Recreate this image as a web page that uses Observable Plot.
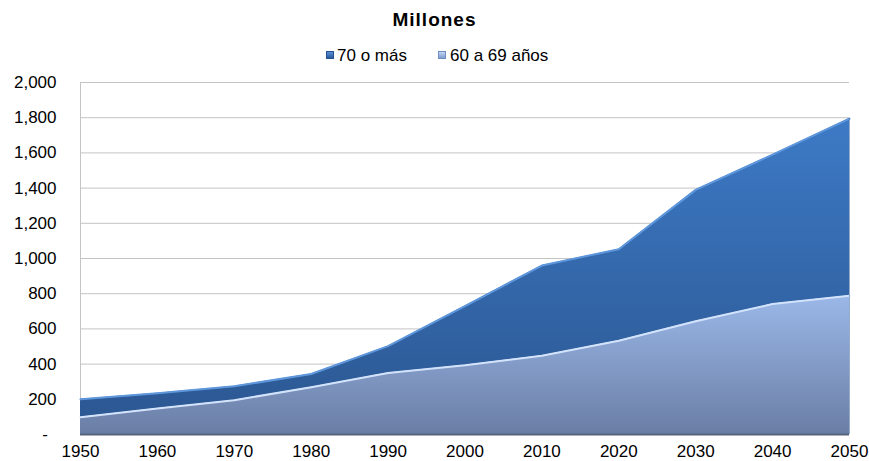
<!DOCTYPE html>
<html>
<head>
<meta charset="utf-8">
<script src="https://cdn.jsdelivr.net/npm/d3@7"></script>
<script src="https://cdn.jsdelivr.net/npm/@observablehq/plot@0.6"></script>
<style>
  body { margin: 0; background: #fff; font-family: "Liberation Sans", Arial, sans-serif; color: #000; }
  #wrap { position: relative; width: 869px; height: 461px; overflow: hidden; }
  #title { position: absolute; top: 8px; left: 0; width: 869px; text-align: center;
           font-weight: bold; font-size: 19px; letter-spacing: 1px; line-height: 24px; }
  .sw { position: absolute; top: 51px; width: 8px; height: 8px; box-sizing: border-box; }
  .lt { position: absolute; top: 46px; font-size: 17px; line-height: 20px; white-space: nowrap; }
  #chart { position: absolute; top: 70px; left: 0; }
</style>
</head>
<body>
<div id="wrap">
  <div id="title">Millones</div>
  <div id="legend"></div>
  <div id="chart"></div>
</div>
<script>
// Población mundial de 60 años o más, en millones, por década
const years = [1950, 1960, 1970, 1980, 1990, 2000, 2010, 2020, 2030, 2040, 2050];
const sesentaA69 = [98, 148, 195, 268, 349, 393, 448, 533, 643, 741, 789];
const setentaOMas = [102, 86, 79, 76, 153, 337, 512, 520, 747, 849, 1006];
const seriesNames = ["70 o más", "60 a 69 años"];
const stackOrder = ["60 a 69 años", "70 o más"];
const yTicks = [0, 200, 400, 600, 800, 1000, 1200, 1400, 1600, 1800, 2000];

const rows = years.flatMap((year, i) => [
  {year, series: "60 a 69 años", value: sesentaA69[i]},
  {year, series: "70 o más", value: setentaOMas[i]}
]);

const areaFill = {"70 o más": "url(#g70)", "60 a 69 años": "url(#g60)"};
const edgeStroke = {"70 o más": "#5f97dc", "60 a 69 años": "#d3e3fb"};
const swatch = {"70 o más": "linear-gradient(#5b8fd6,#2a5a9c)", "60 a 69 años": "linear-gradient(#c4d6f3,#7f9cce)"};
const swatchBorder = {"70 o más": "#24518f", "60 a 69 años": "#6f8dc2"};

const stackOpts = {x: "year", y: "value", z: "series", order: stackOrder};

const chart = Plot.plot({
  width: 869,
  height: 391,
  marginTop: 12,
  marginBottom: 27,
  marginLeft: 80,
  marginRight: 20,
  style: {fontFamily: "'Liberation Sans', Arial, sans-serif", fontSize: "17px", color: "#000", background: "transparent", overflow: "visible"},
  x: {domain: [1950, 2050], label: null},
  y: {domain: [0, 2000], label: null},
  marks: [
    Plot.gridY(yTicks.filter(d => d > 0), {stroke: "#c4c4c4", strokeOpacity: 1}),
    Plot.ruleX([1950], {y1: 0, y2: 2000, stroke: "#c4c4c4"}),
    Plot.areaY(rows, Plot.stackY({...stackOpts, fill: d => areaFill[d.series]})),
    Plot.lineY(rows, Plot.stackY2({...stackOpts, stroke: d => edgeStroke[d.series], strokeWidth: 2})),
    Plot.ruleX([2050], {y1: 0, y2: 1795, stroke: "#2e5a94", strokeOpacity: 0.5}),
    Plot.ruleY([0], {stroke: "#56637d", strokeWidth: 2}),
    Plot.axisX(years, {tickSize: 0, tickPadding: 10, tickFormat: d => String(d), fontSize: 17}),
    Plot.axisY(yTicks, {tickSize: 0, tickPadding: 24, fontSize: 17,
      tickFormat: d => d === 0 ? "-\u2002" : d3.format(",")(d)})
  ]
});

// gradients used by the area fills
const ns = "http://www.w3.org/2000/svg";
const defs = document.createElementNS(ns, "defs");
function gradient(id, stops) {
  const g = document.createElementNS(ns, "linearGradient");
  g.setAttribute("id", id);
  g.setAttribute("x1", "0"); g.setAttribute("y1", "0");
  g.setAttribute("x2", "0"); g.setAttribute("y2", "1");
  stops.forEach(([offset, color]) => {
    const s = document.createElementNS(ns, "stop");
    s.setAttribute("offset", offset);
    s.setAttribute("stop-color", color);
    g.appendChild(s);
  });
  defs.appendChild(g);
}
gradient("g70", [["0", "#3d7ac6"], ["1", "#2c5893"]]);
gradient("g60", [["0", "#9bb8e8"], ["1", "#6a7ea5"]]);
chart.insertBefore(defs, chart.firstChild);
document.getElementById("chart").appendChild(chart);

// legend
const legend = document.getElementById("legend");
const legendPos = {"70 o más": [326, 337], "60 a 69 años": [438, 450]};
seriesNames.forEach(name => {
  const sw = document.createElement("div");
  sw.className = "sw";
  sw.style.left = legendPos[name][0] + "px";
  sw.style.background = swatch[name];
  sw.style.border = "1px solid " + swatchBorder[name];
  legend.appendChild(sw);
  const t = document.createElement("div");
  t.className = "lt";
  t.style.left = legendPos[name][1] + "px";
  t.textContent = name;
  legend.appendChild(t);
});
</script>
</body>
</html>
